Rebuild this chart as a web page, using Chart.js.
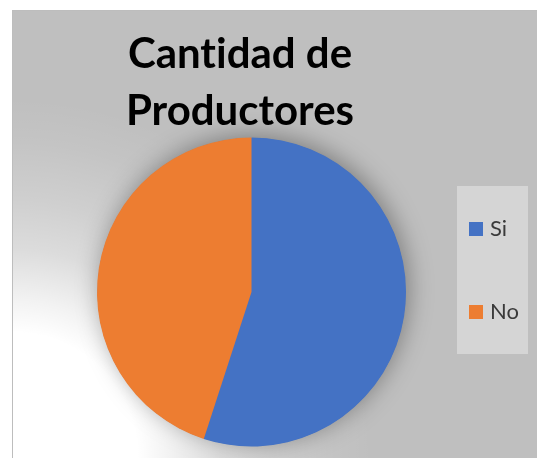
<!DOCTYPE html>
<html>
<head>
<meta charset="utf-8">
<script src="https://cdn.jsdelivr.net/npm/chart.js@4/dist/chart.umd.min.js"></script>
<style>
  html, body { margin: 0; padding: 0; background: #ffffff; }
  #wrap { position: relative; width: 537px; height: 458px; overflow: hidden; }
  #c { position: absolute; left: 0; top: 0; }
  #title {
    position: absolute; left: 0; top: 24px; width: 480px;
    text-align: center; font-family: Lato, "Open Sans", sans-serif;
    font-weight: bold; font-size: 42px; line-height: 57px; color: #000000;
    font-variant-ligatures: none; font-feature-settings: "liga" 0, "clig" 0;
    z-index: 2;
  }
</style>
</head>
<body>
<div id="wrap">
  <canvas id="c" width="537" height="458"></canvas>
  <div id="title">Cantidad de<br>Productores</div>
</div>
<script>
// ---- data ----
const categories = ['Si', 'No'];
const values = [55, 45];
const sliceColors = ['#4472C4', '#ED7D31'];

// ---- decoration: chart background, glow, legend panel, pie shadow ----
const backgroundPlugin = {
  id: 'bg',
  beforeDraw(chart) {
    const ctx = chart.ctx;
    ctx.save();
    ctx.fillStyle = '#ffffff';
    ctx.fillRect(0, 0, chart.width, chart.height);
    ctx.fillStyle = '#bfbfbf';
    ctx.fillRect(12, 10, chart.width - 12, chart.height - 10);
    const g = ctx.createRadialGradient(12, 458, 0, 12, 458, 360);
    g.addColorStop(0.0, 'rgba(255,255,255,1)');
    g.addColorStop(0.35, 'rgba(255,255,255,1)');
    g.addColorStop(0.44, 'rgba(255,255,255,0.8)');
    g.addColorStop(0.58, 'rgba(255,255,255,0.45)');
    g.addColorStop(0.72, 'rgba(255,255,255,0.25)');
    g.addColorStop(0.88, 'rgba(255,255,255,0.08)');
    g.addColorStop(1.0, 'rgba(255,255,255,0)');
    ctx.fillStyle = g;
    ctx.fillRect(12, 10, chart.width - 12, chart.height - 10);
    ctx.strokeStyle = '#bdbdbd';
    ctx.lineWidth = 1;
    ctx.beginPath();
    ctx.moveTo(12.5, 458);
    ctx.lineTo(12.5, 10.5);
    ctx.lineTo(537, 10.5);
    ctx.stroke();
    ctx.fillStyle = '#d5d5d5';
    ctx.fillRect(457, 186, 71, 168);
    ctx.restore();
  },
  beforeDatasetsDraw(chart) {
    const meta = chart.getDatasetMeta(0);
    if (!meta.data.length) return;
    const arc = meta.data[0];
    const ctx = chart.ctx;
    ctx.save();
    ctx.shadowColor = 'rgba(0,0,0,0.35)';
    ctx.shadowBlur = 24;
    ctx.shadowOffsetX = 3;
    ctx.shadowOffsetY = -3;
    ctx.fillStyle = sliceColors[0];
    ctx.beginPath();
    ctx.arc(arc.x, arc.y, arc.outerRadius - 0.5, 0, Math.PI * 2);
    ctx.fill();
    ctx.restore();
  }
};

new Chart(document.getElementById('c'), {
  type: 'pie',
  data: {
    labels: categories,
    datasets: [{
      data: values,
      backgroundColor: sliceColors,
      borderWidth: 0
    }]
  },
  options: {
    responsive: false,
    animation: false,
    devicePixelRatio: 1,
    layout: { padding: { top: 137.5, bottom: 11.5, left: 91, right: 15 } },
    plugins: {
      title: { display: false },
      tooltip: { enabled: false },
      legend: {
        position: 'right',
        align: 'start',
        maxWidth: 110,
        title: { display: true, text: '', padding: 0, font: { size: 10, lineHeight: 1.95 } },
        labels: {
          usePointStyle: true,
          pointStyle: 'rect',
          boxWidth: 6,
          boxHeight: 14,
          padding: 61,
          color: '#3a3a3a',
          font: { family: 'Lato', size: 22 }
        }
      }
    }
  },
  plugins: [backgroundPlugin]
});
</script>
</body>
</html>
